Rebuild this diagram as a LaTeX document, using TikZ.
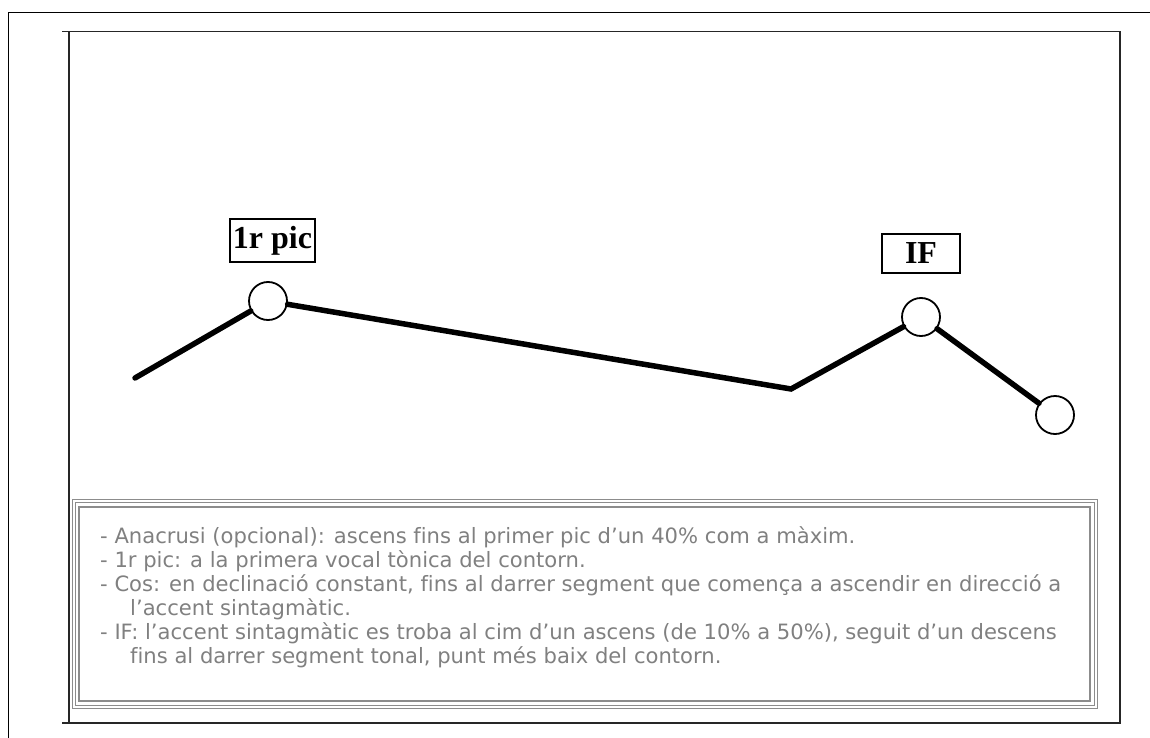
\documentclass[tikz,border=0pt]{standalone}
\usepackage{fontspec}
\setmainfont{Liberation Serif}
\newfontfamily\notefont[Ligatures=NoCommon]{DejaVu Sans}
\usepackage{tikz}
\usetikzlibrary{positioning,calc}
\definecolor{noteGray}{RGB}{128,128,128}
\definecolor{frameGray}{RGB}{140,140,140}

\begin{document}
\begin{tikzpicture}[x=1pt, y=-1pt,
    every node/.style={inner sep=0pt},
    peakcircle/.style={circle, draw, line width=1.8pt, fill=white, minimum size=38pt},
    peaklabel/.style={draw, line width=1.3pt, font=\fontsize{32}{32}\selectfont\bfseries},
    contour/.style={line width=5.5pt, line cap=round, line join=miter},
    noteline/.style={anchor=base west, text=noteGray, font=\notefont\fontsize{21.1}{24}\selectfont}]
  \useasboundingbox (0,0) rectangle (1150,738);
  % Outer frame
  \draw[line width=1.5pt] (8.5,738) -- (8.5,12.5) -- (1150,12.5);
  % Plot frame
  \draw[line width=1.5pt, black!85] (62,31.5) -- (1120,31.5) -- (1120,723) -- (62,723);
  \draw[line width=1.5pt, black!85] (69,31.5) -- (69,723);
  % Contour points
  \coordinate (start) at (135,378);
  \node[peakcircle] (pic) at (268,301) {};
  \coordinate (valley) at (791,389);
  \node[peakcircle] (if) at (921,317) {};
  \node[peakcircle] (end) at (1055,415) {};
  % Contour
  \draw[contour] (start) -- (pic);
  \draw[contour] (pic) -- (valley) -- (if);
  \draw[contour] (if) -- (end);
  % Labels
  \node[peaklabel, minimum width=85pt, minimum height=43pt] (piclabel) at (272.5,240.5) {1r pic};
  \node[peaklabel, minimum width=78pt, minimum height=39pt] (iflabel) at (921,253.5) {IF};
  % Notes box
  \draw[frameGray, double=white, line width=1.6pt, double distance=1.4pt] (74,501) rectangle (1096,707);
  \draw[frameGray, line width=1.7pt] (79,507) rectangle (1090,701);
  \node[noteline] (n1) at (100,543) {- Anacrusi (opcional): ascens fins al primer pic d’un 40\% com a màxim.};
  \node[noteline] (n2) at (100,567) {- 1r pic: a la primera vocal tònica del contorn.};
  \node[noteline] (n3) at (100,591) {- Cos: en declinació constant, fins al darrer segment que comença a ascendir en direcció a};
  \node[noteline] (n4) at (130,615) {l’accent sintagmàtic.};
  \node[noteline] (n5) at (100,639) {- IF: l’accent sintagmàtic es troba al cim d’un ascens (de 10\% a 50\%), seguit d’un descens};
  \node[noteline] (n6) at (130,663) {fins al darrer segment tonal, punt més baix del contorn.};
\end{tikzpicture}
\end{document}
